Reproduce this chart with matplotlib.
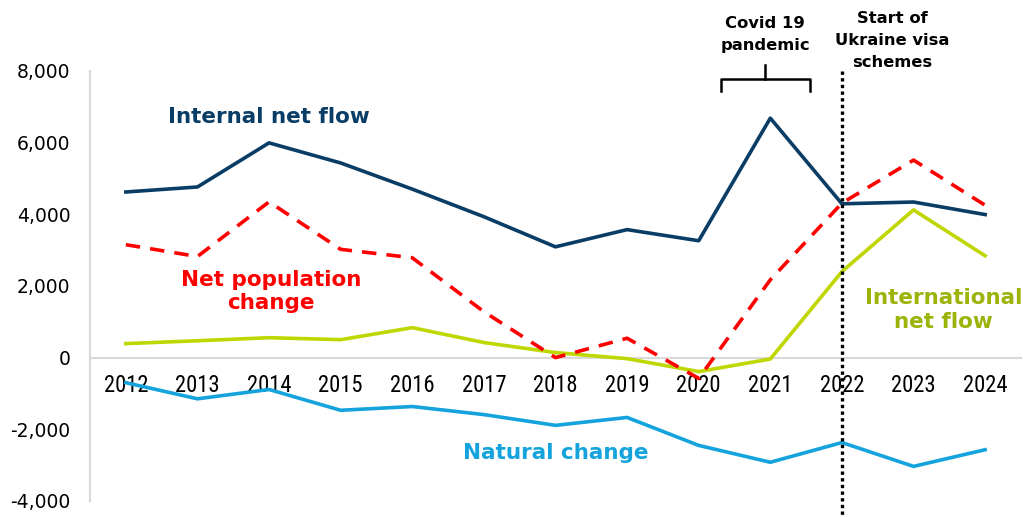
import matplotlib
matplotlib.use("Agg")
import matplotlib.pyplot as plt
from matplotlib import font_manager

plt.rcParams['font.family'] = ['DejaVu Sans']

years = ["2012", "2013", "2014", "2015", "2016", "2017", "2018",
         "2019", "2020", "2021", "2022", "2023", "2024"]
internal_net_flow = [4620, 4760, 5990, 5430, 4700, 3930, 3090,
                     3570, 3260, 6680, 4290, 4340, 3990]
net_population_change = [3150, 2820, 4345, 3020, 2785, 1280, 0,
                         540, -580, 2170, 4310, 5510, 4250]
international_net_flow = [390, 470, 555, 500, 835, 420, 140,
                          -30, -390, -40, 2400, 4120, 2840]
natural_change = [-700, -1150, -890, -1470, -1365, -1590, -1890,
                  -1670, -2450, -2920, -2370, -3035, -2570]
ytick_values = [-4000, -2000, 0, 2000, 4000, 6000, 8000]

navy = "#0A3D66"
red = "#FF0000"
green = "#BFD600"
green_text = "#9CB30A"
blue = "#14A3DC"

names = {f.name for f in font_manager.fontManager.ttflist}
narrow_candidates = ['Liberation Sans Narrow', 'Roboto Condensed',
                     'Open Sans Condensed', 'DejaVu Sans Condensed']
narrow = next((n for n in narrow_candidates if n in names), None)
if narrow is None:
    year_family, year_size = 'DejaVu Sans', 13.5
else:
    year_family, year_size = narrow, 16.3

fig = plt.figure(figsize=(10.23, 5.17), dpi=100)
ax = fig.add_axes([0.088, 0.031, 0.910, 0.832])

x = list(range(len(years)))
ax.plot(x, internal_net_flow, color=navy, lw=2.6, zorder=3)
ax.plot(x, net_population_change, color=red, lw=2.6, linestyle=(0, (4, 2.8)), zorder=4)
ax.plot(x, international_net_flow, color=green, lw=2.6, zorder=3)
ax.plot(x, natural_change, color=blue, lw=2.6, zorder=3)

ax.set_xlim(-0.5, len(years) - 0.5)
ax.set_ylim(-4000, 8000)

for s in ['top', 'right']:
    ax.spines[s].set_visible(False)
ax.spines['left'].set_color('#D9D9D9')
ax.spines['left'].set_linewidth(1.5)
ax.spines['bottom'].set_position(('data', 0))
ax.spines['bottom'].set_color('#D9D9D9')
ax.spines['bottom'].set_linewidth(1.5)
ax.spines['bottom'].set_zorder(1)
ax.tick_params(axis='both', length=0, colors='black')
ax.tick_params(axis='y', pad=14, labelsize=13.5)
ax.tick_params(axis='x', pad=12, labelsize=year_size)

ax.set_yticks(ytick_values)
ax.set_yticklabels([f"{v:,}" for v in ytick_values])
ax.set_xticks(x)
ax.set_xticklabels(years, family=year_family, fontsize=year_size)

# Series labels
ax.text(2.0, 6700, "Internal net flow", color=navy, fontsize=15.5,
        fontweight='bold', ha='center', va='center')
ax.text(2.03, 1850, "Net population\nchange", color=red, fontsize=15.5,
        fontweight='bold', ha='center', va='center', linespacing=1.2)
ax.text(11.42, 1330, "International\nnet flow", color=green_text, fontsize=15.5,
        fontweight='bold', ha='center', va='center', linespacing=1.2)
ax.text(6.0, -2670, "Natural change", color=blue, fontsize=15.5,
        fontweight='bold', ha='center', va='center')

# Ukraine visa scheme marker
ax.plot([10, 10], [8000, -4450], color='black', lw=2.4,
        linestyle=(0, (1, 1)), clip_on=False, zorder=5)
ax.text(10.7, 8840, "Start of\nUkraine visa\nschemes", fontsize=11.8,
        fontweight='bold', ha='center', va='center', linespacing=1.6)

# Covid bracket
bx0, bx1, bxc = 8.31, 9.55, 8.93
by, bend, btop = 7780, 7450, 8150
ax.plot([bx0, bx0, bx1, bx1], [bend, by, by, bend], color='black', lw=1.8,
        clip_on=False, solid_joinstyle='round')
ax.plot([bxc, bxc], [by, btop], color='black', lw=1.8, clip_on=False)
ax.text(bxc, 9020, "Covid 19\npandemic", fontsize=11.8, fontweight='bold',
        ha='center', va='center', linespacing=1.6)

fig.savefig("out.png", dpi=100)
